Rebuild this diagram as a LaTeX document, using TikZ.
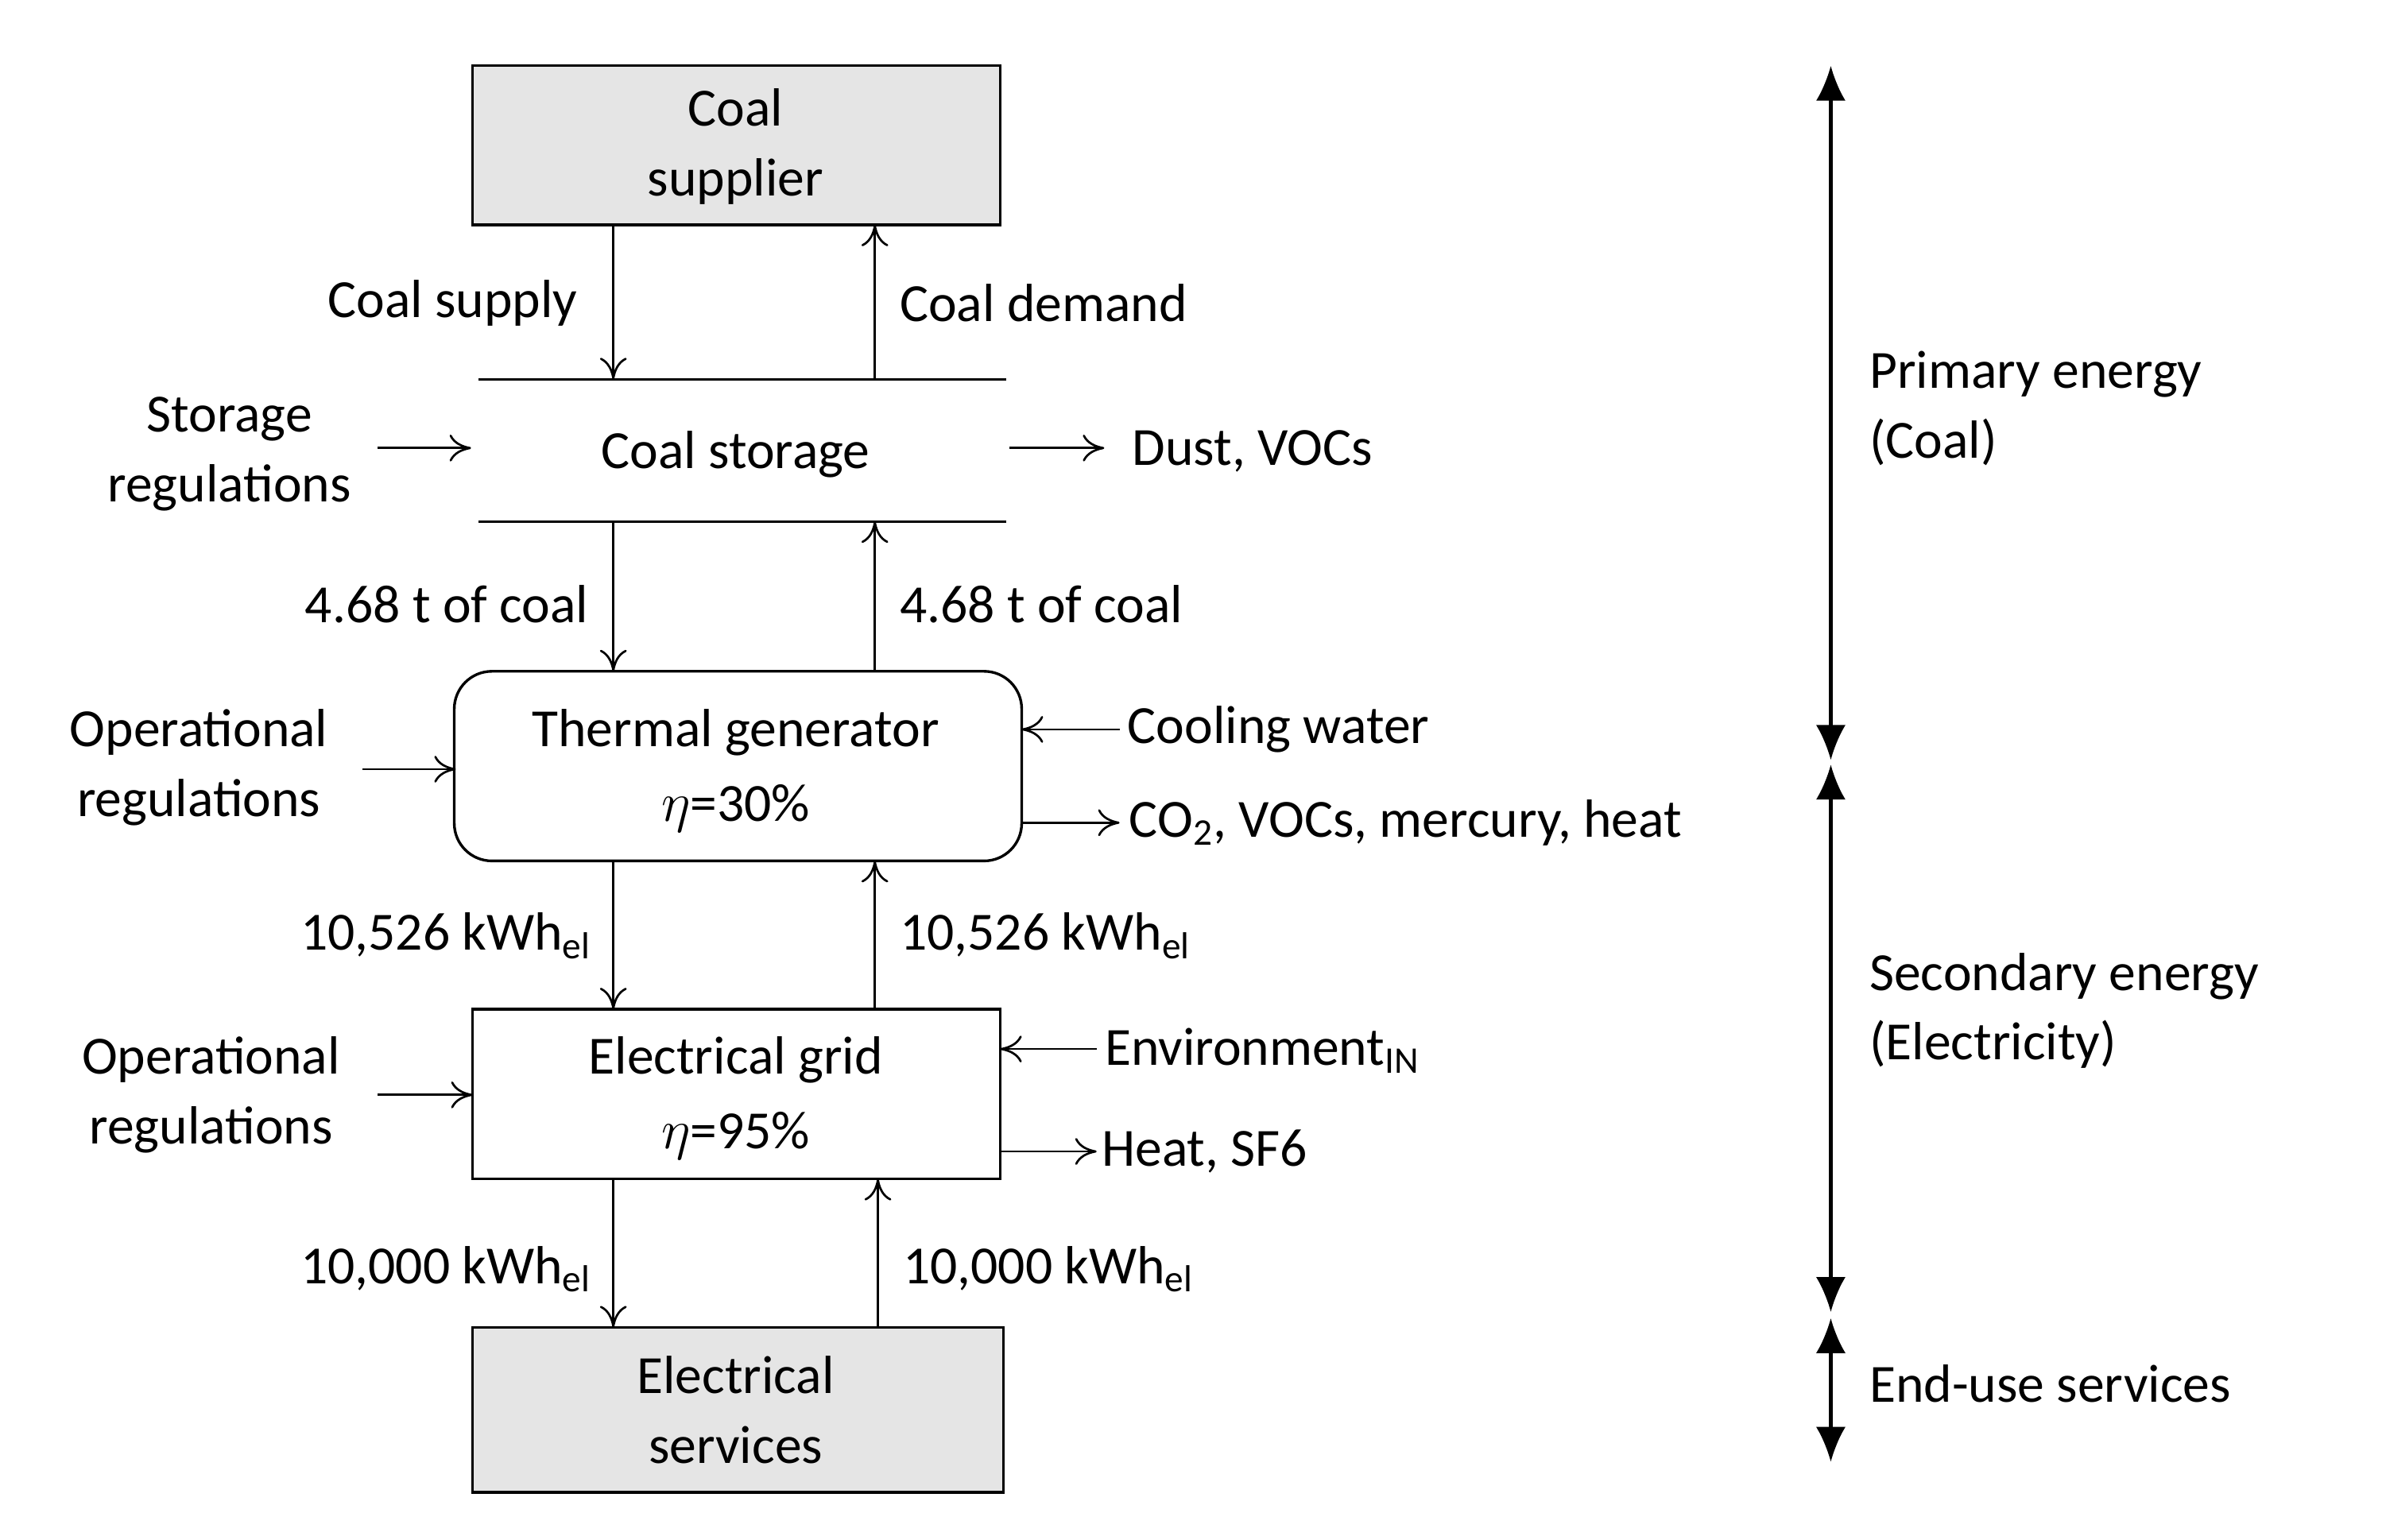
\documentclass[tikz,border=0pt]{standalone}
\usepackage{fontspec}
\setmainfont{Carlito}
\usetikzlibrary{arrows.meta}
\begin{document}
\begin{tikzpicture}[x=0.02cm,y=-0.02cm,font=\fontsize{20}{24}\selectfont,
  fl/.style={-{To[length=8pt,width=10pt]},line width=0.8pt},
  sc/.style={{Latex[length=13pt,width=11pt]}-{Latex[length=13pt,width=11pt]},line width=1.2pt},
  box/.style={draw,line width=1pt,inner sep=0pt},
  lab/.style={align=center,inner sep=0pt}]
\useasboundingbox (0,0) rectangle (1560,1007);
% boxes
\draw[box,fill=gray!20] (309,43) rectangle (654,147);
\node[lab] (sup) at (481,96) {Coal\\[2pt]supplier};
\draw[line width=1pt] (313,248) -- (658,248) (313,341) -- (658,341);
\node[lab] (sto) at (481,297) {Coal storage};
\draw[box,rounded corners=14pt] (297,439) rectangle (668,563);
\node[lab] (tg) at (481,504) {Thermal generator\\[4pt]$\eta$=30\%};
\draw[box] (309,660) rectangle (654,771);
\node[lab] (eg) at (481,718) {Electrical grid\\[4pt]$\eta$=95\%};
\draw[box,fill=gray!20] (309,868) rectangle (656,976);
\node[lab] (es) at (481,922) {Electrical\\[2pt]services};
% vertical flows
\draw[fl] (401,147) -- (401,248);
\draw[fl] (572,248) -- (572,147);
\draw[fl] (401,341) -- (401,439);
\draw[fl] (572,439) -- (572,341);
\draw[fl] (401,563) -- (401,660);
\draw[fl] (572,660) -- (572,563);
\draw[fl] (401,771) -- (401,868);
\draw[fl] (574,868) -- (574,771);
\node[anchor=east,inner sep=0pt] at (378,198) {Coal supply};
\node[anchor=west,inner sep=0pt] at (588,198) {Coal demand};
\node[anchor=east,inner sep=0pt] at (385,395) {4.68 t of coal};
\node[anchor=west,inner sep=0pt] at (588,395) {4.68 t of coal};
\node[anchor=east,inner sep=0pt] at (387,612) {10,526 kWh\textsubscript{el}};
\node[anchor=west,inner sep=0pt] at (588,612) {10,526 kWh\textsubscript{el}};
\node[anchor=east,inner sep=0pt] at (387,830) {10,000 kWh\textsubscript{el}};
\node[anchor=west,inner sep=0pt] at (590,830) {10,000 kWh\textsubscript{el}};
% side inputs/outputs
\node[lab] (sr) at (150,297) {Storage\\[2pt]regulations};
\draw[fl] (247,293) -- (308,293);
\draw[fl] (660,293) -- (722,293);
\node[anchor=west,inner sep=0pt] (dv) at (740,295) {Dust, VOCs};
\node[lab] (or1) at (130,502) {Operational\\[2pt]regulations};
\draw[fl] (237,503) -- (298,503);
\draw[fl] (732,477) -- (668,477);
\node[anchor=west,inner sep=0pt] (cw) at (737,477) {Cooling water};
\draw[fl] (668,538) -- (732,538);
\node[anchor=west,inner sep=0pt] (co) at (738,538) {CO\textsubscript{2}, VOCs, mercury, heat};
\node[lab] (or2) at (138,716) {Operational\\[2pt]regulations};
\draw[fl] (247,716) -- (309,716);
\draw[fl] (717,686) -- (654,686);
\node[anchor=west,inner sep=0pt] (env) at (722,687) {Environment\textsubscript{IN}};
\draw[fl] (654,753) -- (717,753);
\node[anchor=west,inner sep=0pt] (hs) at (720,753) {Heat, SF6};
% scale
\draw[sc] (1197,43) -- (1197,497);
\draw[sc] (1197,500) -- (1197,858);
\draw[sc] (1197,862) -- (1197,956);
\node[anchor=west,align=left,inner sep=0pt] at (1222,267) {Primary energy\\[2pt](Coal)};
\node[anchor=west,align=left,inner sep=0pt] at (1222,661) {Secondary energy\\[2pt](Electricity)};
\node[anchor=west,inner sep=0pt] at (1222,905) {End-use services};
\end{tikzpicture}
\end{document}
